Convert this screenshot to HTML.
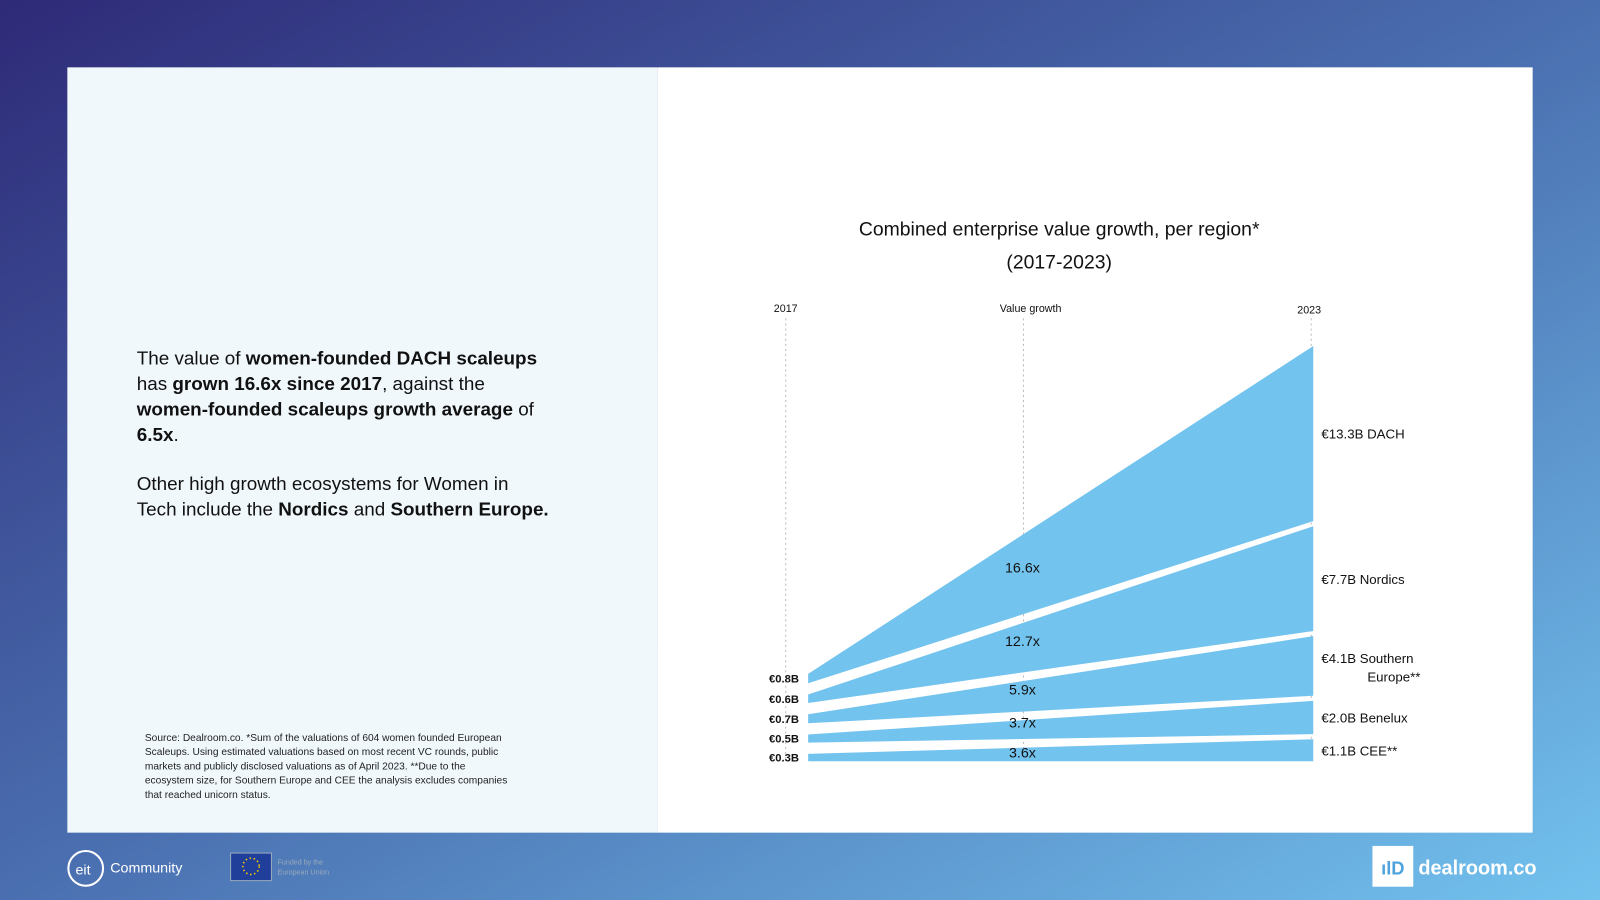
<!DOCTYPE html>
<html><head><meta charset="utf-8"><style>
html,body{margin:0;padding:0;width:1600px;height:900px;overflow:hidden}
svg{display:block}
text{font-family:"Liberation Sans",sans-serif}
</style></head><body>
<svg width="1600" height="900" viewBox="0 0 1568 882" preserveAspectRatio="none">
<defs><linearGradient id="bg" x1="0" y1="0" x2="1" y2="1"><stop offset="0" stop-color="#2e2a78"/><stop offset="0.5" stop-color="#4a6fb0"/><stop offset="1" stop-color="#72c2ee"/></linearGradient></defs>
<rect width="1568" height="882" fill="url(#bg)"/>
<rect x="66" y="66" width="578" height="750" fill="#f0f8fc"/>
<rect x="644" y="66" width="858" height="750" fill="#ffffff"/>
<g font-size="18.5" fill="#111">
<text x="134" y="357">The value of <tspan font-weight="bold">women-founded DACH scaleups</tspan></text>
<text x="134" y="382">has <tspan font-weight="bold">grown 16.6x since 2017</tspan>, against the</text>
<text x="134" y="407"><tspan font-weight="bold">women-founded scaleups growth average</tspan> of</text>
<text x="134" y="432" font-weight="bold">6.5x<tspan font-weight="normal">.</tspan></text>
<text x="134" y="480">Other high growth ecosystems for Women in</text>
<text x="134" y="505">Tech include the <tspan font-weight="bold">Nordics</tspan> and <tspan font-weight="bold">Southern Europe.</tspan></text>
</g>
<g font-size="10" fill="#222">
<text x="142" y="726">Source: Dealroom.co. *Sum of the valuations of 604 women founded European</text>
<text x="142" y="740">Scaleups. Using estimated valuations based on most recent VC rounds, public</text>
<text x="142" y="754">markets and publicly disclosed valuations as of April 2023. **Due to the</text>
<text x="142" y="768">ecosystem size, for Southern Europe and CEE the analysis excludes companies</text>
<text x="142" y="782">that reached unicorn status.</text>
</g>
<text x="1038" y="231" font-size="19" text-anchor="middle" fill="#111">Combined enterprise value growth, per region*</text>
<text x="1038" y="263" font-size="19" text-anchor="middle" fill="#111">(2017-2023)</text>
<g font-size="10.5" fill="#111" text-anchor="middle">
<text x="770" y="306">2017</text>
<text x="1010" y="306">Value growth</text>
<text x="1283" y="307">2023</text>
</g>
<g stroke="#bbb" stroke-dasharray="2,3" stroke-width="1">
<line x1="770" y1="312" x2="770" y2="745"/>
<line x1="1003" y1="312" x2="1003" y2="745"/>
<line x1="1285" y1="312" x2="1285" y2="745"/>
</g>
<g id="bands"></g>
<g id="labels"></g>
<g>
<circle cx="84" cy="851" r="17" fill="none" stroke="#fff" stroke-width="2"/>
<text x="74" y="857" font-size="14" fill="#fff">eit</text>
<text x="108" y="855" font-size="14" fill="#fff">Community</text>
</g>
<g>
<rect x="226" y="836" width="40" height="27" fill="#1f3f9a" stroke="#9ab" stroke-width="1"/>
<circle cx="246" cy="849" r="8" fill="none" stroke="#fc0" stroke-width="1.5" stroke-dasharray="1.5,2.5"/>
<text x="272" y="847" font-size="7" fill="#9ab">Funded by the</text>
<text x="272" y="857" font-size="7" fill="#9ab">European Union</text>
</g>
<g>
<rect x="1345" y="829" width="40" height="40" fill="#fff"/>
<text x="1365" y="857" font-size="18" font-weight="bold" text-anchor="middle" fill="#4fa3dd">ılD</text>
<text x="1390" y="857" font-size="19.5" font-weight="bold" fill="#fff">dealroom.co</text>
</g>
</svg>
<script>
const regions=["CEE**","Benelux","Southern Europe**","Nordics","DACH"];
const values2017=[0.3,0.5,0.7,0.6,0.8];
const values2023=[1.1,2.0,4.1,7.7,13.3];
const growth=["3.6x","3.7x","5.9x","12.7x","16.6x"];
const labels2017=["€0.3B","€0.5B","€0.7B","€0.6B","€0.8B"];
const labels2023=["€1.1B","€2.0B","€4.1B","€7.7B","€13.3B"];
const NS="http://www.w3.org/2000/svg";
const xL=792,xR=1287,base=746,gapL=11,gapR=5,xMid=1002;
function yLeft(v){return 6+4*v;}
function yRight(v){return 8+12.3*v;}
const bands=document.getElementById('bands'),labels=document.getElementById('labels');
let yl=base,yr=base;
function mk(tag,attrs,parent){const e=document.createElementNS(NS,tag);for(const a in attrs)e.setAttribute(a,attrs[a]);parent.appendChild(e);return e;}
for(let i=0;i<regions.length;i++){
  const hl=yLeft(values2017[i]),hr=yRight(values2023[i]);
  const lb=yl,lt=yl-hl,rb=yr,rt=yr-hr;
  const p=mk('polygon',{points:`${xL},${lb} ${xL},${lt} ${xR},${rt} ${xR},${rb}`,fill:'#72c3ee'},bands);
  
  
  const t=(xMid-xL)/(xR-xL);
  const cm=((lb+lt)/2)*(1-t)+((rb+rt)/2)*t;
  const g=mk('text',{x:xMid,y:cm+(i===0?3:-2),'font-size':14,'text-anchor':'middle',fill:'#111'},labels);
  g.textContent=growth[i];
  
  
  const l=mk('text',{x:783,y:(lb+lt)/2+4,'font-size':11,'font-weight':'bold','text-anchor':'end',fill:'#111'},labels);
  l.textContent=labels2017[i];
  
  
  const r=mk('text',{x:1295,y:(rb+rt)/2+5,'font-size':13,fill:'#111'},labels);
  
  
  if(regions[i]==="Southern Europe**"){
    r.setAttribute('y',(rb+rt)/2-3);
    r.textContent=labels2023[i]+"   Southern";
    const r2=mk('text',{x:1340,y:(rb+rt)/2+15,'font-size':13,fill:'#111'},labels);
    r2.textContent="Europe**";
    
    
  } else r.textContent=labels2023[i]+"   "+regions[i];
  yl=lt-gapL;yr=rt-gapR;
}
</script>
</body></html>
